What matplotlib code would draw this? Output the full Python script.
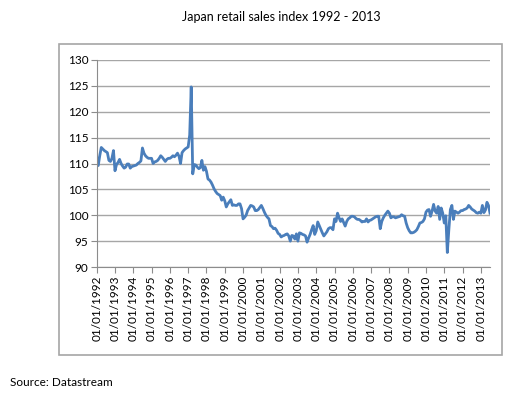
import matplotlib.pyplot as plt
from matplotlib.patches import Rectangle

# monthly index values, Jan 1992 .. Jul 2013
v1992 = [111.3, 109.6, 111.5, 113.1, 112.8, 112.5, 112.3, 112.1, 110.6, 110.4, 111.0, 112.5]
v1993 = [108.6, 109.8, 110.2, 110.8, 110.0, 109.5, 109.1, 109.3, 109.9, 109.9, 109.1, 109.4]
v1994 = [109.5, 109.6, 109.7, 110.0, 110.2, 110.5, 113.0, 112.0, 111.5, 111.2, 111.0, 111.0]
v1995 = [111.0, 110.0, 110.3, 110.4, 110.6, 111.0, 111.5, 111.2, 110.8, 110.4, 110.8, 111.0]
v1996 = [111.0, 111.2, 111.5, 111.3, 111.6, 112.0, 111.4, 110.0, 112.1, 112.5, 112.8, 113.0]
v1997 = [113.2, 115.5, 124.8, 108.0, 109.8, 109.7, 109.3, 109.0, 109.2, 110.6, 108.7, 109.4]
v1998 = [108.5, 107.0, 106.8, 106.4, 105.8, 105.1, 104.6, 104.2, 104.0, 103.8, 102.9, 103.5]
v1999 = [102.8, 101.6, 102.2, 102.6, 103.0, 101.9, 102.0, 101.9, 101.9, 102.2, 102.2, 101.3]
v2000 = [99.3, 99.6, 100.0, 100.9, 101.4, 101.9, 101.8, 101.6, 100.9, 100.9, 101.1, 101.5]
v2001 = [101.9, 101.3, 100.6, 100.0, 99.6, 99.3, 98.0, 97.8, 97.4, 97.5, 97.1, 96.5]
v2002 = [96.3, 95.8, 96.0, 96.1, 96.3, 96.4, 96.0, 95.0, 96.1, 96.0, 95.4, 96.4]
v2003 = [95.0, 96.6, 96.5, 96.3, 96.2, 96.0, 94.8, 95.6, 96.3, 97.2, 98.0, 96.3]
v2004 = [97.0, 98.7, 98.0, 97.3, 96.6, 96.0, 96.4, 96.8, 97.4, 97.6, 97.6, 97.2]
v2005 = [99.3, 98.8, 100.4, 99.5, 98.8, 99.3, 98.6, 97.9, 98.8, 99.3, 99.5, 99.8]
v2006 = [99.8, 99.7, 99.4, 99.2, 99.2, 99.0, 98.7, 98.8, 98.8, 99.3, 98.7, 99.0]
v2007 = [99.1, 99.3, 99.5, 99.7, 99.8, 99.8, 97.4, 98.8, 99.5, 100.0, 100.4, 100.8]
v2008 = [100.4, 99.5, 99.7, 99.7, 99.5, 99.6, 99.7, 99.8, 100.1, 99.9, 99.8, 98.5]
v2009 = [97.6, 97.0, 96.6, 96.6, 96.7, 96.9, 97.2, 97.8, 98.5, 98.6, 98.8, 99.3]
v2010 = [100.6, 101.0, 101.1, 99.8, 100.8, 102.1, 100.8, 100.4, 101.7, 99.2, 101.4, 100.4]
v2011 = [98.5, 99.9, 92.8, 97.2, 101.1, 101.9, 99.2, 100.8, 100.6, 100.4, 100.6, 100.9]
v2012 = [100.9, 101.1, 101.2, 101.4, 101.9, 101.6, 101.2, 101.0, 100.8, 100.5, 100.4, 100.6]
v2013 = [100.4, 101.9, 100.5, 101.0, 102.5, 101.9, 100.4]

values = (v1992 + v1993 + v1994 + v1995 + v1996 + v1997 + v1998 + v1999 + v2000 +
          v2001 + v2002 + v2003 + v2004 + v2005 + v2006 + v2007 + v2008 + v2009 +
          v2010 + v2011 + v2012 + v2013)
months = list(range(len(values)))

years = list(range(1992, 2014))
tick_pos = [12 * (y - 1992) for y in years]
tick_labels = ["01/01/" + str(y) for y in years]

font = "Lato"
grey = "#a6a6a6"

fig = plt.figure(figsize=(5.19, 4.01), dpi=100)

# chart frame
fig.patches.append(Rectangle((59 / 519, 1 - 355 / 401), 443 / 519, 311 / 401,
                             transform=fig.transFigure, fill=False,
                             edgecolor=grey, linewidth=1.2))

ax = fig.add_axes([96.7 / 519, 1 - 267 / 401, (490 - 96.7) / 519, 207 / 401])
ax.plot(months, values, color="#4a7ebb", linewidth=2.0)

ax.set_xlim(0, len(values) - 1)
ax.set_ylim(90, 130)
ax.set_yticks(range(90, 131, 5))
ax.set_xticks(tick_pos)
ax.set_xticklabels(tick_labels, rotation=90, fontsize=8.5, family=font)
for lab in ax.get_yticklabels():
    lab.set_family(font)
    lab.set_fontsize(8.5)

ax.grid(axis="y", color=grey, linewidth=1)
ax.set_axisbelow(True)
for s in ["top", "right"]:
    ax.spines[s].set_visible(False)
for s in ["left", "bottom"]:
    ax.spines[s].set_color("#8c8c8c")
ax.tick_params(axis="both", color="#8c8c8c", length=4, pad=2)

fig.text(281 / 519, 1 - 17 / 401, "Japan retail sales index 1992 - 2013",
         ha="center", va="center", fontsize=9, family=font)
fig.text(10 / 519, 1 - 383 / 401, "Source: Datastream",
         ha="left", va="center", fontsize=8.5, family=font)

fig.savefig("out.png", dpi=100)
